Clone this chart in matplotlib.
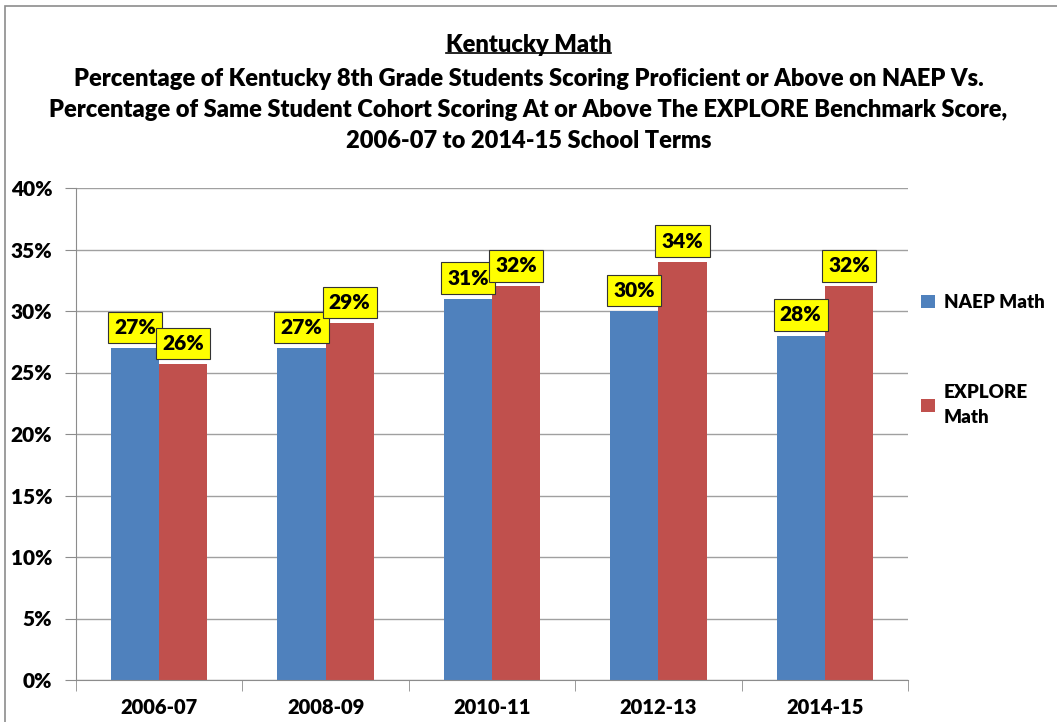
import matplotlib
matplotlib.use("Agg")
import matplotlib.pyplot as plt
import numpy as np
from matplotlib.patches import Rectangle

categories = ["2006-07", "2008-09", "2010-11", "2012-13", "2014-15"]
naep = [27.0, 27.0, 31.0, 30.0, 28.0]
explore = [25.7, 29.0, 32.0, 34.0, 32.0]
naep_labels = ["27%", "27%", "31%", "30%", "28%"]
explore_labels = ["26%", "29%", "32%", "34%", "32%"]
series_names = ["NAEP Math", "EXPLORE\nMath"]
yticks = [0, 5, 10, 15, 20, 25, 30, 35, 40]

plt.rcParams['font.family'] = ['Lato', 'DejaVu Sans']
plt.rcParams['font.weight'] = 'bold'

W, H = 1057, 722
fig = plt.figure(figsize=(W / 100, H / 100), dpi=100)
ax = fig.add_axes([76 / W, 1 - 680 / H, (908 - 76) / W, (680 - 188) / H])

# outer border
fig.patches.append(Rectangle((5 / W, -0.1), 1.2, 1 - 6 / H + 0.1, transform=fig.transFigure,
                             fill=False, edgecolor='#8c8c8c', linewidth=1.2, zorder=0))

x = np.arange(len(categories))
bw = 0.29
blue = '#4F81BD'
red = '#C0504D'
b1 = ax.bar(x - bw / 2, naep, bw, color=blue, zorder=2, label=series_names[0])
b2 = ax.bar(x + bw / 2, explore, bw, color=red, zorder=2, label=series_names[1])

for bars, labs in ((b1, naep_labels), (b2, explore_labels)):
    for r, lab in zip(bars, labs):
        ax.annotate(lab, (r.get_x() + r.get_width() / 2, r.get_height()),
                    xytext=(0, 8), textcoords='offset points', ha='center', va='bottom',
                    fontsize=15, fontweight='heavy', zorder=5,
                    bbox=dict(boxstyle='square,pad=0.3', facecolor='#FFFF00',
                              edgecolor='#333333', linewidth=0.8))

ax.set_ylim(0, 40)
ax.set_xlim(-0.5, len(categories) - 0.5)
ax.set_yticks(yticks)
ax.set_yticklabels([f"{v}%" for v in yticks], fontsize=15, fontweight='heavy')
ax.yaxis.grid(True, color='#a0a0a0', linewidth=1.0, zorder=0)
ax.set_axisbelow(True)
ax.set_xticks(x)
ax.set_xticklabels(categories, fontsize=14.5, fontweight='heavy')
ax.tick_params(axis='x', length=0, pad=13)
ax.set_xticks(np.arange(-0.5, len(categories), 1), minor=True)
ax.tick_params(axis='x', which='minor', length=8, color='#8c8c8c', direction='out')
ax.tick_params(axis='y', length=8, color='#8c8c8c', direction='out', pad=9)
for s in ('top', 'right'):
    ax.spines[s].set_visible(False)
ax.spines['left'].set_color('#8c8c8c')
ax.spines['bottom'].set_color('#8c8c8c')

leg = fig.legend(handles=[b1, b2], labels=series_names, loc='upper left',
                 bbox_to_anchor=(921 / W, 1 - 294 / H), frameon=False, borderaxespad=0,
                 borderpad=0, prop={'size': 13.5, 'weight': 'heavy'}, handlelength=0.75,
                 handleheight=0.75, handletextpad=0.45, labelspacing=3.9)
leg.get_texts()[1].set_linespacing(1.55)

t = fig.text(0.5, 1 - 45 / H, "Kentucky Math", ha='center', va='center', fontsize=17,
             fontweight='heavy')
fig.text(0.5, 1 - 110 / H,
         "Percentage of Kentucky 8th Grade Students Scoring Proficient or Above on NAEP Vs.\n"
         "Percentage of Same Student Cohort Scoring At or Above The EXPLORE Benchmark Score,\n"
         "2006-07 to 2014-15 School Terms",
         ha='center', va='center', fontsize=17, fontweight='heavy', linespacing=1.5)

fig.canvas.draw()
bb = t.get_window_extent(fig.canvas.get_renderer()).transformed(fig.transFigure.inverted())
fig.add_artist(plt.Line2D([bb.x0, bb.x1], [bb.y0 + 0.004, bb.y0 + 0.004], color='black', linewidth=1.2))

fig.savefig("out.png", dpi=100)
